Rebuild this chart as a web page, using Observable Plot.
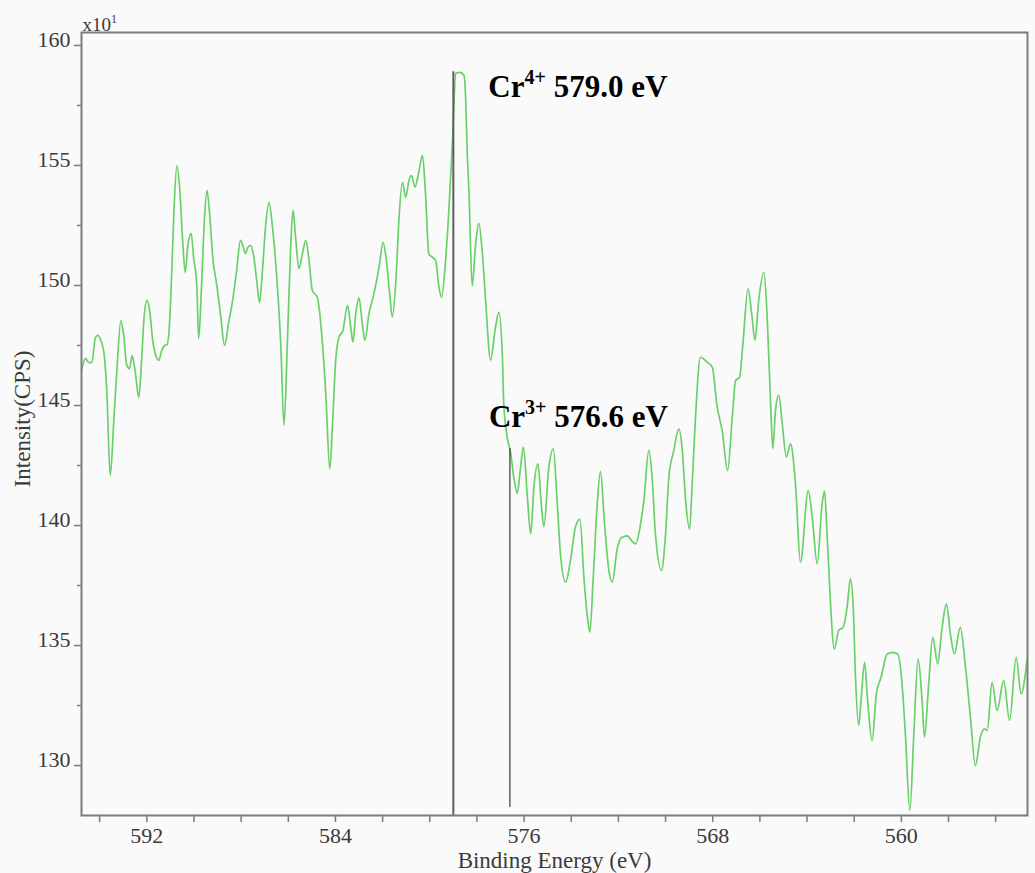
<!DOCTYPE html>
<html>
<head>
<meta charset="utf-8">
<script src="https://cdn.jsdelivr.net/npm/d3@7"></script>
<script src="https://cdn.jsdelivr.net/npm/@observablehq/plot@0.6"></script>
<style>
  html, body { margin: 0; padding: 0; background: #fafafa; }
  #chart svg { display: block; }
</style>
</head>
<body>
<div id="chart"></div>
<script>
// Cr 2p XPS spectrum: binding energy (eV) and intensity (CPS, x10^1)
const bindingEnergy = [
  594.77, 594.60, 594.46, 594.33, 594.18, 594.08, 593.95, 593.82, 593.70, 593.55,
  593.40, 593.27, 593.10, 592.98, 592.85, 592.74, 592.62, 592.49, 592.34, 592.21,
  592.11, 591.99, 591.87, 591.75, 591.62, 591.49, 591.37, 591.24, 591.14, 591.03,
  590.94, 590.84, 590.72, 590.60, 590.48, 590.37, 590.26, 590.12, 590.01, 589.88,
  589.80, 589.67, 589.56, 589.45, 589.33, 589.20, 589.03, 588.87, 588.70, 588.53,
  588.36, 588.19, 588.03, 587.93, 587.82, 587.72, 587.61, 587.47, 587.34, 587.22,
  587.09, 586.96, 586.82,
  586.67, 586.46, 586.32, 586.18, 586.04, 585.90, 585.80, 585.69, 585.55, 585.40,
  585.26, 585.12, 584.98, 584.77, 584.55, 584.41, 584.24, 584.13, 583.99, 583.85,
  583.68, 583.49, 583.35, 583.26, 583.14, 583.00, 582.86, 582.75, 582.58, 582.37,
  582.15, 581.98, 581.84, 581.70, 581.59, 581.42, 581.31, 581.16, 581.02, 580.88,
  580.77, 580.63, 580.48, 580.31, 580.18, 580.04, 579.89, 579.75, 579.61, 579.50,
  579.33, 579.19, 579.04, 578.90,
  578.73, 578.55, 578.48, 578.41, 578.34, 578.20, 578.06, 577.92, 577.77, 577.63,
  577.42, 577.21, 577.07, 576.92, 576.86, 576.71, 576.57, 576.43, 576.29, 576.15,
  576.03, 575.86, 575.72, 575.58, 575.41, 575.27, 575.16, 574.95, 574.76, 574.59,
  574.45, 574.24, 574.03, 573.82, 573.63, 573.46, 573.32, 573.21, 573.07, 572.90,
  572.76, 572.59, 572.40, 572.26, 572.05, 571.88, 571.62, 571.41,
  571.27, 571.06, 570.92, 570.71, 570.57, 570.43, 570.17, 570.00, 569.86, 569.65,
  569.44, 569.29, 569.15, 568.98, 568.87, 568.73, 568.52, 568.23, 568.02, 567.81,
  567.60, 567.37, 567.17, 567.03, 566.86, 566.72, 566.50, 566.33, 566.21, 566.05,
  565.83, 565.69, 565.55, 565.45, 565.34, 565.20, 565.05, 564.88, 564.70, 564.49,
  564.28, 563.95, 563.78, 563.57, 563.36, 563.26,
  563.15, 563.04, 562.84, 562.66, 562.47, 562.30, 562.16, 562.04, 561.95, 561.81,
  561.71, 561.56, 561.43, 561.24, 561.06, 560.86, 560.60, 560.39, 560.15, 559.97,
  559.83, 559.64, 559.47, 559.29, 559.12, 559.02, 558.84, 558.67, 558.46, 558.27,
  558.09, 557.92, 557.75, 557.50, 557.28, 557.07, 556.86, 556.65, 556.48, 556.36,
  556.15, 555.94, 555.66, 555.41, 555.13, 554.92, 554.67
];

const intensity = [
  146.46, 146.96, 146.79, 146.79, 147.83, 147.92, 147.71, 147.21, 145.63, 142.08,
  144.38, 146.46, 148.54, 147.92, 146.67, 146.54, 147.08, 146.38, 145.33, 147.08,
  148.75, 149.38, 148.88, 147.71, 147.08, 146.88, 147.29, 147.50, 147.54, 148.54,
  150.63, 153.33, 155.00, 153.96, 151.88, 150.54, 151.67, 152.17, 151.13, 150.00,
  147.79, 150.21, 152.71, 153.96, 152.92, 151.13, 150.00, 148.75, 147.50, 148.46,
  149.38, 150.63, 151.88, 151.67, 151.33, 151.58, 151.67, 151.25, 150.21, 149.29,
  150.71, 152.50, 153.46,
  152.43, 149.93, 147.57, 144.17, 147.57, 151.60, 153.13, 152.01, 150.70, 151.32,
  151.88, 151.04, 149.79, 149.51, 147.57, 145.49, 142.36, 144.10, 146.88, 147.85,
  148.13, 149.17, 148.26, 147.64, 148.82, 149.49, 148.40, 147.71, 148.82, 149.65,
  150.76, 151.80, 151.04, 149.65, 148.68, 150.49, 152.71, 154.30, 153.68, 154.38,
  154.58, 154.10, 154.65, 155.42, 153.82, 151.32, 151.18, 151.04, 149.93, 149.51,
  151.04, 153.13, 155.90, 158.83,
  158.88, 158.76, 157.83, 155.52, 153.98, 149.97, 151.67, 152.59, 151.36, 149.35,
  146.89, 148.28, 148.89, 147.04, 145.04, 143.65, 143.03, 141.96, 141.34, 142.42,
  143.27, 141.18, 139.65, 141.65, 142.57, 140.88, 139.95, 142.42, 143.19, 140.88,
  138.72, 137.64, 138.57, 139.95, 140.26, 137.79, 136.25, 135.56, 137.79, 140.88,
  142.26, 140.10, 138.10, 137.64, 139.03, 139.49, 139.57, 139.33,
  139.24, 140.07, 141.04, 143.13, 142.01, 139.65, 138.13, 139.65, 142.01, 143.13,
  144.03, 143.13, 141.04, 139.86, 141.74, 144.51, 147.01, 146.80, 146.60, 144.93,
  143.96, 142.29, 144.51, 146.04, 146.18, 147.57, 149.86, 148.68, 147.71, 149.38,
  150.55, 148.68, 145.21, 143.20, 144.79, 145.42, 144.24, 142.85, 143.40, 141.74,
  138.47, 141.46, 140.35, 138.40, 140.90, 141.43,
  139.65, 137.43, 134.86, 135.63, 135.76, 136.60, 137.78, 136.60, 133.82, 131.67,
  132.71, 134.30, 132.71, 131.04, 132.99, 133.68, 134.65, 134.72, 134.65, 133.40,
  131.32, 128.13, 131.32, 134.45, 132.71, 131.18, 133.40, 135.35, 134.24, 135.76,
  136.74, 135.49, 134.65, 135.76, 134.10, 132.01, 130.00, 131.18, 131.53, 131.46,
  133.47, 132.29, 133.54, 131.88, 134.51, 132.99, 134.38
];

// Axis ticks
const energyTicks = [594, 592, 590, 588, 586, 584, 582, 580, 578, 576, 574, 572, 570, 568, 566, 564, 562, 560, 558, 556];
const energyTickLabels = [592, 584, 576, 568, 560];
const intensityTicks = [130, 135, 140, 145, 150, 155, 160];
const intensityMinorTicks = [132.5, 137.5, 142.5, 147.5, 152.5, 157.5];

// Assigned chromium oxidation states
const peakIon = ["Cr", "Cr"];
const peakCharge = ["4+", "3+"];
const peakEnergy = [579.0, 576.6];

const spectrum = bindingEnergy.map((e, i) => ({energy: e, counts: intensity[i]}))
  .filter(d => d.counts !== undefined);
const peaks = peakEnergy.map((e, i) => ({ion: peakIon[i], charge: peakCharge[i], energy: e}));
const peakText = d => `${d.ion}${d.charge} ${d.energy.toFixed(1)} eV`;

const serif = "'Liberation Serif', 'Times New Roman', serif";
const axisInk = "#3a3a3a";
const axisLine = "#7c7c7c";

const chart = Plot.plot({
  width: 1035,
  height: 873,
  marginLeft: 81,
  marginRight: 8,
  marginTop: 32,
  marginBottom: 58,
  style: {background: "#fafafa", fontFamily: serif, overflow: "visible"},
  x: {domain: [594.77, 554.65]},
  y: {domain: [127.92, 160.54]},
  marks: [
    Plot.line(spectrum, {x: "energy", y: "counts", stroke: "#6ad06a", strokeWidth: 1.7, curve: "monotone-x"}),
    Plot.ruleX([peaks[0]], {x: "energy", y1: 127.92, y2: 158.9, stroke: "#5e5e5e", strokeWidth: 2}),
    Plot.ruleX([peaks[1]], {x: "energy", y1: 128.25, y2: 143.2, stroke: "#111", strokeWidth: 1}),
    Plot.text([peaks[0]], {x: "energy", y: 158.26, text: peakText, textAnchor: "start", lineAnchor: "middle", dx: 35,
      fontSize: 31, fontWeight: "bold", fill: "#000"}),
    Plot.text([peaks[1]], {x: "energy", y: 144.51, text: peakText, textAnchor: "start", lineAnchor: "middle", dx: -21,
      fontSize: 31, fontWeight: "bold", fill: "#000"}),
    Plot.frame({stroke: axisLine, strokeWidth: 2}),
    Plot.axisX({ticks: energyTicks, tickSize: 7, fill: "none", stroke: axisLine, strokeWidth: 1.5, label: null}),
    Plot.axisX({ticks: energyTickLabels, tickSize: 0, tickPadding: 12, fontSize: 22, fill: axisInk, label: null}),
    Plot.axisY({ticks: intensityTicks, tickSize: 7, fill: "none", stroke: axisLine, strokeWidth: 1.5, label: null}),
    Plot.axisY({ticks: intensityMinorTicks, tickSize: 4, fill: "none", stroke: axisLine, strokeWidth: 1.5, label: null}),
    Plot.axisY({ticks: intensityTicks, tickSize: 0, tickPadding: 11, dy: -6, fontSize: 22, fill: axisInk, label: null}),
    Plot.text(["Binding Energy (eV)"], {frameAnchor: "bottom", lineAnchor: "middle", textAnchor: "middle",
      dy: 45, fontSize: 23, fill: axisInk}),
    Plot.text(["Intensity(CPS)"], {frameAnchor: "left", lineAnchor: "middle", textAnchor: "middle",
      dx: -59, dy: -5, rotate: -90, fontSize: 23, fill: axisInk}),
    Plot.text(["x10"], {frameAnchor: "top-left", lineAnchor: "middle", textAnchor: "start",
      dx: 1, dy: -8, fontSize: 19, fill: axisInk})
  ]
});

// Superscripts: ion charges and the intensity multiplier exponent
const SVG_NS = "http://www.w3.org/2000/svg";
function withSuperscript(textEl, base, sup, rest, supSize, rise) {
  textEl.textContent = "";
  const a = document.createElementNS(SVG_NS, "tspan");
  a.textContent = base;
  const b = document.createElementNS(SVG_NS, "tspan");
  b.textContent = sup;
  b.setAttribute("font-size", supSize);
  b.setAttribute("dy", -rise);
  textEl.append(a, b);
  if (rest) {
    const c = document.createElementNS(SVG_NS, "tspan");
    c.textContent = rest;
    c.setAttribute("dy", rise);
    textEl.append(c);
  }
}
const texts = Array.from(chart.querySelectorAll("text"));
for (const p of peaks) {
  const t = texts.find(el => el.textContent === peakText(p));
  if (t) withSuperscript(t, p.ion, p.charge, ` ${p.energy.toFixed(1)} eV`, 20, 13);
}
const factor = texts.find(el => el.textContent === "x10");
if (factor) withSuperscript(factor, "x10", "1", "", 12, 8);

document.getElementById("chart").append(chart);
</script>
</body>
</html>
